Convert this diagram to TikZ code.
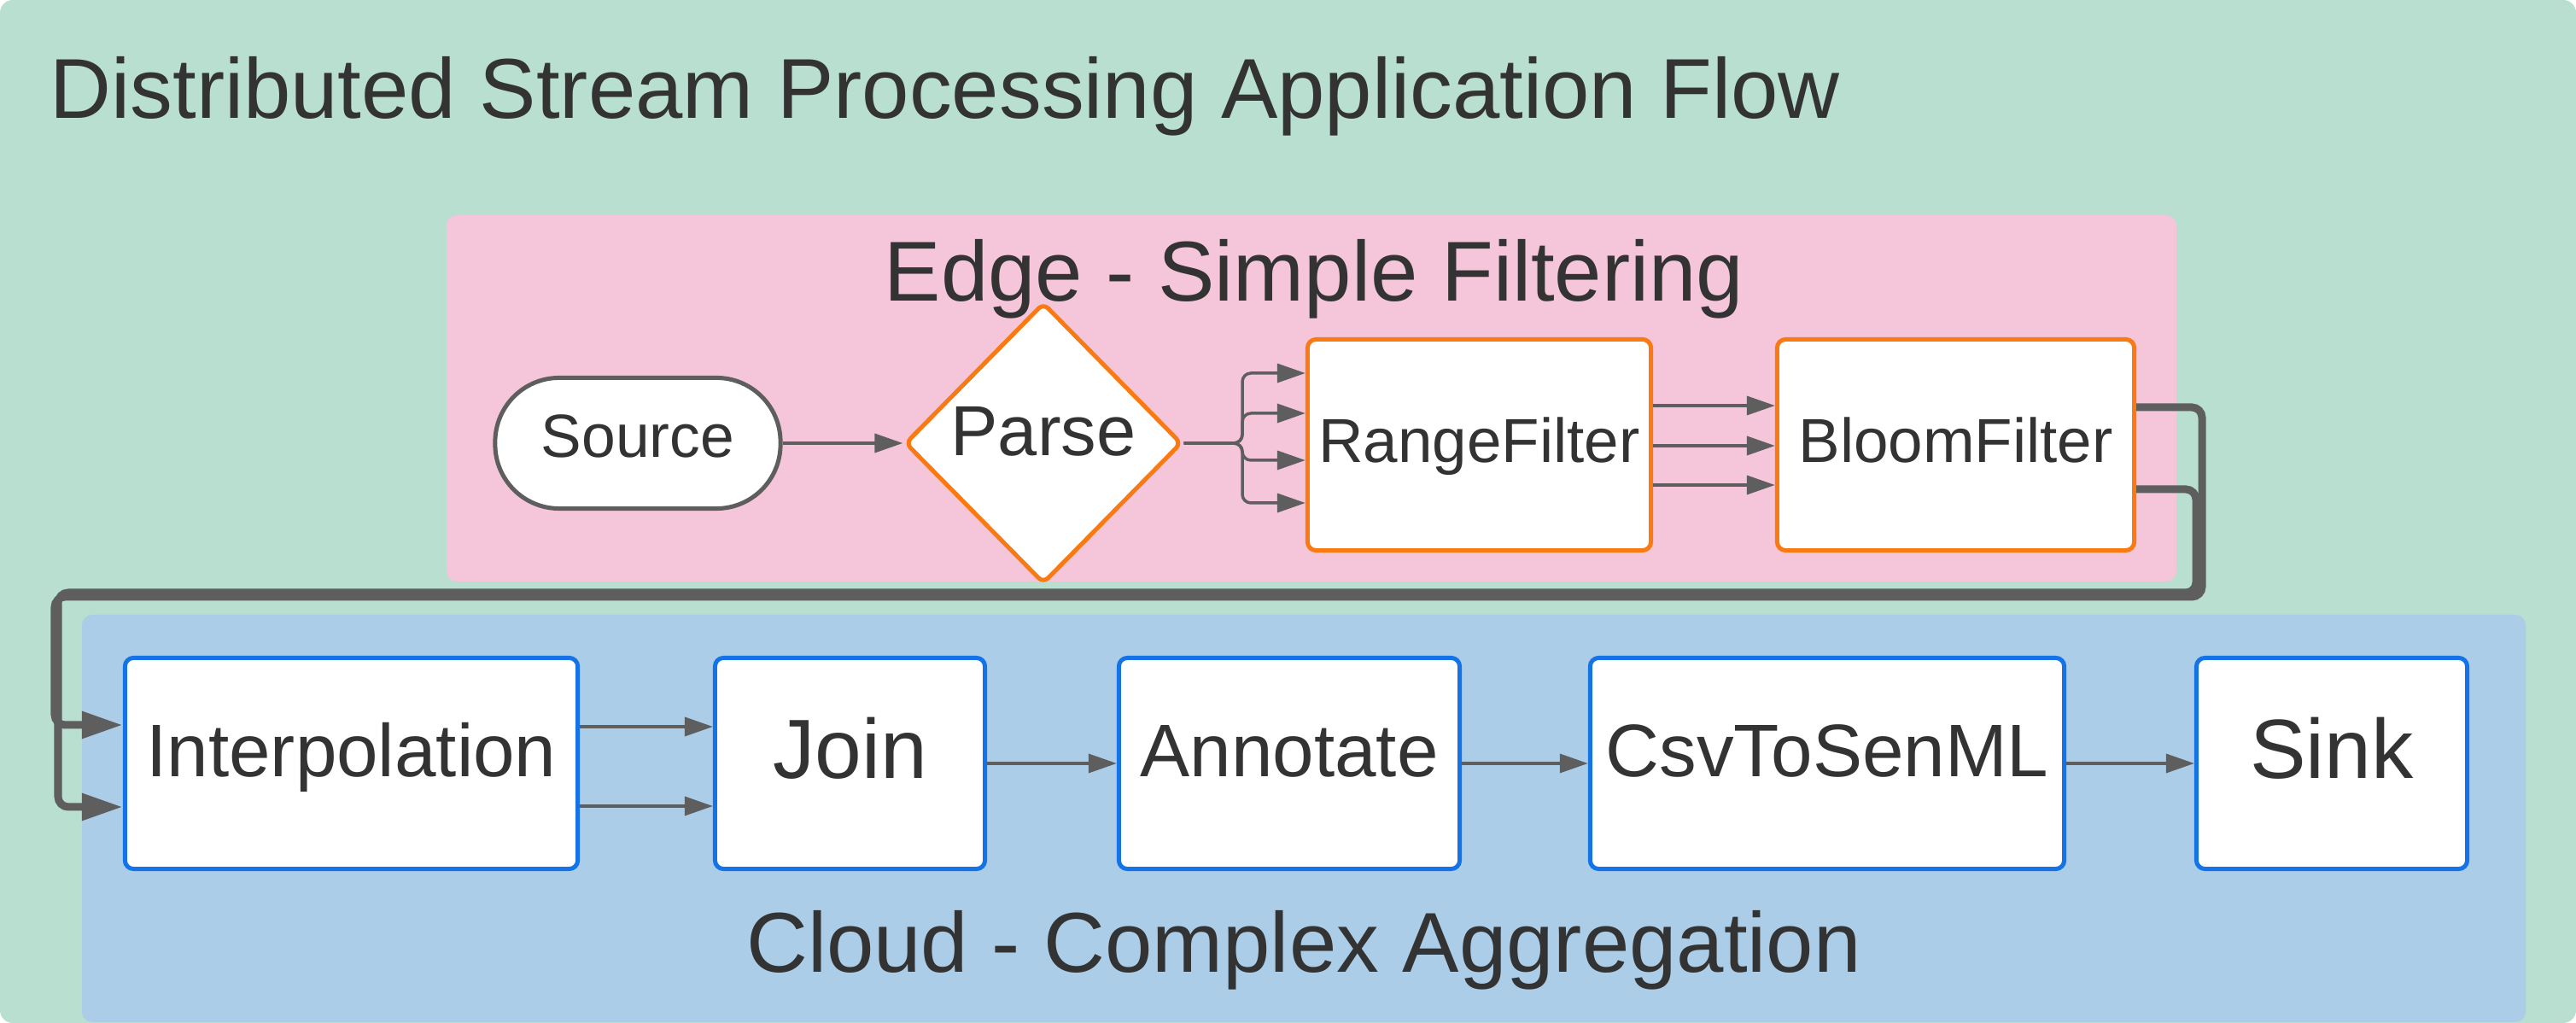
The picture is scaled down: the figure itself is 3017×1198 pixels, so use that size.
\documentclass[tikz,border=0pt]{standalone}
\usepackage{fontspec}
\setmainfont{Liberation Sans}
\usetikzlibrary{arrows.meta,shapes.geometric}
\definecolor{flowgreen}{HTML}{B8DFCF}
\definecolor{edgepink}{HTML}{F5C5D9}
\definecolor{cloudblue}{HTML}{ABCDE8}
\definecolor{edgeline}{HTML}{F97A13}
\definecolor{cloudline}{HTML}{1473E6}
\definecolor{wiregray}{HTML}{5E5E5E}
\definecolor{inkgray}{HTML}{333333}
\begin{document}
\begin{tikzpicture}[x=0.01cm,y=-0.01cm,%stream flow
  every node/.style={text=inkgray},
  panel/.style={rounded corners=0.12cm},
  titletext/.style={font=\fontsize{28.3pt}{34pt}\selectfont,inner sep=0,anchor=base},
  opbox/.style={rectangle,fill=white,line width=0.05cm,rounded corners=0.1cm,minimum height=2.47cm,inner sep=0},
  edgeop/.style={opbox,draw=edgeline},
  cloudop/.style={opbox,draw=cloudline},
  bigtext/.style={font=\fontsize{28pt}{32pt}\selectfont,text height=21pt,text depth=11pt},
  midtext/.style={font=\fontsize{24.8pt}{29pt}\selectfont,text height=18.6pt,text depth=9.7pt},
  smalltext/.style={font=\fontsize{20.7pt}{25pt}\selectfont,text height=17.5pt,text depth=6.1pt},
  wire/.style={draw=wiregray,line width=0.035cm,-{Triangle[length=0.33cm,width=0.22cm]}},
  thickwire/.style={draw=wiregray,line width=0.09cm,rounded corners=0.12cm,-{Triangle[length=0.48cm,width=0.3cm]}}]
\useasboundingbox (0,0) rectangle (3017,1198);
\fill[flowgreen,rounded corners=0.15cm] (0,0) rectangle (3017,1198);
\fill[edgepink,panel] (523,252) rectangle (2549,681);
\fill[cloudblue,panel] (96,720) rectangle (2958,1197);
\node[titletext,anchor=base west] (title) at (58,139) {Distributed Stream Processing Application Flow};
\node[titletext] (edgetitle) at (1539,353) {Edge - Simple Filtering};
\node[titletext] (cloudtitle) at (1527,1139) {Cloud - Complex Aggregation};
% edge
\node[opbox,draw=wiregray,rounded corners=0.75cm,minimum width=3.34cm,minimum height=1.53cm,font=\fontsize{20.3pt}{24pt}\selectfont,text height=16.3pt,text depth=6.8pt] (source) at (747,519) {Source};
\node[diamond,draw=edgeline,fill=white,line width=0.05cm,rounded corners=0.08cm,minimum width=3.24cm,minimum height=3.29cm,inner sep=0,font=\fontsize{23.6pt}{28pt}\selectfont,text height=17.7pt,text depth=9.2pt] (parse) at (1222,519) {Parse};
\node[edgeop,minimum width=4.02cm,smalltext] (range) at (1732.5,521) {RangeFilter};
\node[edgeop,minimum width=4.18cm,smalltext] (bloom) at (2290.5,521) {BloomFilter};
% cloud
\node[cloudop,minimum width=5.30cm,midtext] (interp) at (411.5,894) {Interpolation};
\node[cloudop,minimum width=3.16cm,bigtext] (join) at (995.5,894) {Join};
\node[cloudop,minimum width=3.99cm,midtext] (annotate) at (1510,894) {Annotate};
\node[cloudop,minimum width=5.55cm,midtext] (csvsenml) at (2140,894) {CsvToSenML};
\node[cloudop,minimum width=3.17cm,bigtext] (sink) at (2731,894) {Sink};
\draw[wire] (source) -- (parse);
\foreach \y in {437,484,539,589}
  \draw[wire,rounded corners=0.1cm] (parse.east) -| (1455,\y) -- (range.west |- 0,\y);
\foreach \y in {475,522,568}
  \draw[wire] (range.east |- 0,\y) -- (bloom.west |- 0,\y);
\draw[thickwire] (bloom.east |- 0,477) -| (2579,699) -| (64,849) -- (interp.west |- 0,849);
\draw[thickwire] (bloom.east |- 0,573) -| (2572,694) -| (68,945) -- (interp.west |- 0,945);
\foreach \y in {851,944}
  \draw[wire] (interp.east |- 0,\y) -- (join.west |- 0,\y);
\draw[wire] (join) -- (annotate);
\draw[wire] (annotate) -- (csvsenml);
\draw[wire] (csvsenml) -- (sink);
\end{tikzpicture}
\end{document}
